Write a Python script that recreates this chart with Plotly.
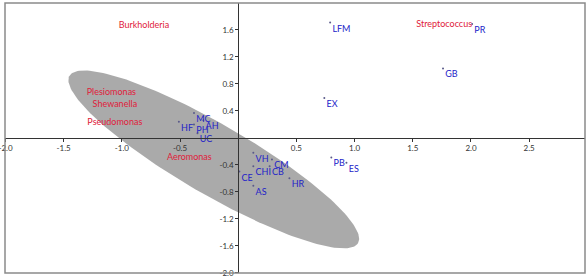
import numpy as np
import plotly.graph_objects as go

# --- data ---
pt_labels = ["LFM", "PR", "GB", "EX", "MC", "HF", "PH", "AH", "UC",
             "VH", "CM", "CHI", "CB", "CE", "AS", "HR", "PB", "ES"]
pt_x = [0.79, 2.01, 1.76, 0.74, -0.38, -0.51, -0.38, -0.30, -0.35,
        0.13, 0.29, 0.13, 0.27, 0.01, 0.13, 0.44, 0.80, 0.93]
pt_y = [1.71, 1.69, 1.03, 0.59, 0.37, 0.24, 0.20, 0.26, 0.07,
        -0.22, -0.32, -0.42, -0.42, -0.50, -0.71, -0.60, -0.29, -0.37]

genus_labels = ["Burkholderia", "Streptococcus", "Plesiomonas", "Shewanella",
                "Pseudomonas", "Aeromonas"]
genus_x = [-0.81, 1.77, -1.09, -1.06, -1.06, -0.42]
genus_y = [1.67, 1.68, 0.67, 0.49, 0.22, -0.30]

# ellipse: centre and two half-axis vectors (data units)
ell_center = (-0.21, -0.32)
ell_major = (1.24, -1.24)
ell_minor = (0.15, 0.45)

x_ticks = [-2.0, -1.5, -1.0, -0.5, 0.5, 1.0, 1.5, 2.0, 2.5]
x_ticktext = ["-2.0", "-1.5", "-1.0", "-0.5", "0.5", "1.0", "1.5", "2.0", "2.5"]
y_ticks = [-2.0, -1.6, -1.2, -0.8, -0.4, 0.4, 0.8, 1.2, 1.6]
y_ticktext = ["-2.0", "-1.6", "-1.2", "-0.8", "-0.4", "0.4", "0.8", "1.2", "1.6"]

x_range = [-2.004, 2.98]
y_range = [-2.004, 2.0]

# --- figure ---
t = np.linspace(0, 2 * np.pi, 200)
ex = ell_center[0] + np.cos(t) * ell_major[0] + np.sin(t) * ell_minor[0]
ey = ell_center[1] + np.cos(t) * ell_major[1] + np.sin(t) * ell_minor[1]

fig = go.Figure()
fig.add_trace(go.Scatter(x=ex, y=ey, mode="lines", fill="toself",
                         fillcolor="#aaaaaa", line=dict(width=0, color="#aaaaaa"),
                         hoverinfo="skip", showlegend=False))
fig.add_trace(go.Scatter(x=pt_x, y=pt_y, mode="markers+text", text=pt_labels,
                         textposition="bottom right",
                         textfont=dict(family="Lato", size=9, color="#2323c8"),
                         marker=dict(size=2, color="#5a5a8a"),
                         showlegend=False))
fig.add_trace(go.Scatter(x=genus_x, y=genus_y, mode="text", text=genus_labels,
                         textposition="middle center",
                         textfont=dict(family="Lato", size=9, color="#e0203a"),
                         showlegend=False))

y_pos = (0 - x_range[0]) / (x_range[1] - x_range[0])
x_pos = (0 - y_range[0]) / (y_range[1] - y_range[0])

fig.update_layout(
    width=588, height=276,
    margin=dict(l=5, r=3, t=3, b=3, autoexpand=False),
    plot_bgcolor="white", paper_bgcolor="white",
    xaxis=dict(range=x_range, showgrid=False, zeroline=False, showline=True,
               linecolor="#333333", linewidth=1, automargin=False,
               anchor="free", position=x_pos, ticklabeloverflow="allow",
               tickvals=x_ticks, ticktext=x_ticktext, ticks="outside", ticklen=3,
               tickcolor="#333333",
               tickfont=dict(family="Lato", size=8, color="#333333")),
    yaxis=dict(range=y_range, showgrid=False, zeroline=False, showline=True,
               linecolor="#333333", linewidth=1, automargin=False,
               anchor="free", position=y_pos, ticklabeloverflow="allow",
               tickvals=y_ticks, ticktext=y_ticktext, ticks="outside", ticklen=3,
               tickcolor="#333333",
               tickfont=dict(family="Lato", size=8, color="#333333")),
    shapes=[dict(type="rect", xref="paper", yref="paper", x0=0, x1=1, y0=0, y1=1,
                 line=dict(color="#8a8a8a", width=1.5), layer="above")],
)

fig.write_html("out.html", config={"displayModeBar": False},
               post_script="document.body.style.margin='0';")
